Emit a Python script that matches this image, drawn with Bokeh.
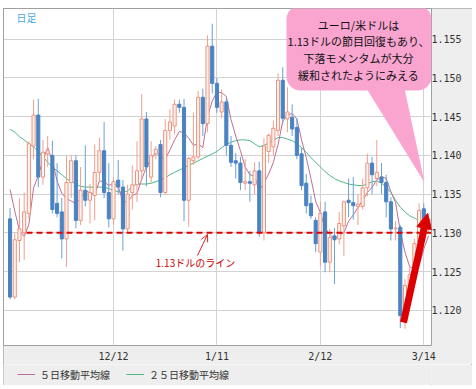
import pandas as pd
from bokeh.plotting import figure
from bokeh.layouts import column
from bokeh.models import (ColumnDataSource, FixedTicker, PrintfTickFormatter, Range1d,
                          Legend, LegendItem, Label, Arrow, NormalHead, OpenHead, BoxAnnotation)
from bokeh.embed import file_html
from bokeh.resources import INLINE

# ---------------- data ----------------
dates = [f"{d.month}/{d.day}" for d in pd.bdate_range("2018-11-12", "2019-03-15")]

opens = [
    1.1318, 1.1217, 1.1290, 1.1300, 1.1325, 1.1412, 1.1452, 1.1372, 1.1402, 1.1400,
    1.1338, 1.1327, 1.1292, 1.1365, 1.1393, 1.1316, 1.1355, 1.1342, 1.1348, 1.1378,
    1.1406, 1.1352, 1.1318, 1.1368, 1.1359, 1.1305, 1.1352, 1.1362, 1.1380, 1.1447,
    1.1372, 1.1402, 1.1414, 1.1352, 1.1432, 1.1438, 1.1466, 1.1462, 1.1342, 1.1393,
    1.1398, 1.1475, 1.1441, 1.1541, 1.1493, 1.1456, 1.1469, 1.1413, 1.1393, 1.1390,
    1.1364, 1.1366, 1.1362, 1.1380, 1.1300, 1.1405, 1.1411, 1.1432, 1.1497, 1.1447,
    1.1449, 1.1436, 1.1402, 1.1364, 1.1338, 1.1316, 1.1275, 1.1327, 1.1262, 1.1296,
    1.1292, 1.1309, 1.1342, 1.1339, 1.1334, 1.1334, 1.1358, 1.1390, 1.1370, 1.1372,
    1.1365, 1.1340, 1.1305, 1.1307, 1.1193, 1.1225, 1.1250, 1.1288, 1.1331, 1.1306]
highs = [
    1.1332, 1.1300, 1.1344, 1.1352, 1.1418, 1.1472, 1.1473, 1.1420, 1.1425, 1.1419,
    1.1390, 1.1345, 1.1399, 1.1400, 1.1400, 1.1385, 1.1413, 1.1363, 1.1414, 1.1423,
    1.1443, 1.1390, 1.1372, 1.1394, 1.1368, 1.1362, 1.1387, 1.1418, 1.1479, 1.1456,
    1.1418, 1.1412, 1.1420, 1.1447, 1.1460, 1.1472, 1.1472, 1.1473, 1.1398, 1.1455,
    1.1483, 1.1486, 1.1555, 1.1570, 1.1500, 1.1485, 1.1475, 1.1425, 1.1403, 1.1398,
    1.1395, 1.1380, 1.1391, 1.1392, 1.1422, 1.1428, 1.1445, 1.1506, 1.1514, 1.1488,
    1.1466, 1.1448, 1.1410, 1.1376, 1.1348, 1.1320, 1.1340, 1.1340, 1.1305, 1.1306,
    1.1327, 1.1342, 1.1370, 1.1372, 1.1350, 1.1370, 1.1402, 1.1398, 1.1420, 1.1390,
    1.1375, 1.1346, 1.1315, 1.1310, 1.1240, 1.1258, 1.1292, 1.1338, 1.1338, 1.1325]
lows = [
    1.1214, 1.1214, 1.1262, 1.1265, 1.1318, 1.1395, 1.1359, 1.1362, 1.1385, 1.1325,
    1.1320, 1.1267, 1.1256, 1.1345, 1.1306, 1.1310, 1.1334, 1.1312, 1.1316, 1.1365,
    1.1345, 1.1307, 1.1310, 1.1350, 1.1277, 1.1300, 1.1330, 1.1340, 1.1370, 1.1360,
    1.1365, 1.1395, 1.1346, 1.1350, 1.1420, 1.1427, 1.1455, 1.1315, 1.1308, 1.1388,
    1.1395, 1.1425, 1.1430, 1.1480, 1.1455, 1.1448, 1.1400, 1.1385, 1.1370, 1.1355,
    1.1355, 1.1340, 1.1350, 1.1295, 1.1290, 1.1390, 1.1400, 1.1425, 1.1440, 1.1430,
    1.1425, 1.1395, 1.1355, 1.1325, 1.1318, 1.1275, 1.1257, 1.1249, 1.1249, 1.1234,
    1.1285, 1.1270, 1.1320, 1.1317, 1.1310, 1.1330, 1.1347, 1.1350, 1.1360, 1.1350,
    1.1320, 1.1290, 1.1290, 1.1177, 1.1176, 1.1220, 1.1245, 1.1280, 1.1295, 1.1300]
closes = [
    1.1217, 1.1291, 1.1305, 1.1327, 1.1415, 1.1452, 1.1372, 1.1404, 1.1406, 1.1330,
    1.1325, 1.1292, 1.1365, 1.1393, 1.1316, 1.1355, 1.1342, 1.1352, 1.1378, 1.1406,
    1.1352, 1.1318, 1.1366, 1.1359, 1.1305, 1.1350, 1.1362, 1.1380, 1.1447, 1.1385,
    1.1400, 1.1408, 1.1352, 1.1432, 1.1443, 1.1466, 1.1462, 1.1342, 1.1396, 1.1398,
    1.1475, 1.1441, 1.1541, 1.1493, 1.1462, 1.1469, 1.1413, 1.1391, 1.1390, 1.1365,
    1.1366, 1.1364, 1.1380, 1.1300, 1.1412, 1.1426, 1.1435, 1.1497, 1.1448, 1.1456,
    1.1434, 1.1400, 1.1361, 1.1335, 1.1322, 1.1286, 1.1325, 1.1262, 1.1294, 1.1291,
    1.1312, 1.1340, 1.1339, 1.1335, 1.1337, 1.1358, 1.1390, 1.1375, 1.1378, 1.1365,
    1.1340, 1.1305, 1.1306, 1.1193, 1.1232, 1.1246, 1.1286, 1.1329, 1.1303, 1.1318]
ma5 = [
    1.1356, 1.1328, 1.1303, 1.1295, 1.1311, 1.1358, 1.1374, 1.1394, 1.1410, 1.1393,
    1.1367, 1.1351, 1.1344, 1.1341, 1.1338, 1.1344, 1.1354, 1.1352, 1.1349, 1.1367,
    1.1366, 1.1361, 1.1364, 1.1360, 1.1340, 1.1340, 1.1348, 1.1351, 1.1369, 1.1385,
    1.1395, 1.1404, 1.1398, 1.1395, 1.1407, 1.1420, 1.1431, 1.1429, 1.1422, 1.1413,
    1.1415, 1.1410, 1.1450, 1.1470, 1.1482, 1.1481, 1.1476, 1.1446, 1.1425, 1.1406,
    1.1385, 1.1375, 1.1373, 1.1355, 1.1364, 1.1376, 1.1391, 1.1414, 1.1444, 1.1452,
    1.1454, 1.1447, 1.1420, 1.1397, 1.1370, 1.1341, 1.1326, 1.1306, 1.1298, 1.1292,
    1.1297, 1.1300, 1.1315, 1.1323, 1.1333, 1.1342, 1.1352, 1.1359, 1.1368, 1.1373,
    1.1370, 1.1353, 1.1339, 1.1302, 1.1275, 1.1256, 1.1253, 1.1257, 1.1279, 1.1296]
ma25 = [
    1.1434, 1.1430, 1.1424, 1.1420, 1.1415, 1.1411, 1.1405, 1.1398, 1.1391, 1.1385,
    1.1380, 1.1375, 1.1370, 1.1366, 1.1363, 1.1360, 1.1359, 1.1359, 1.1359, 1.1359,
    1.1359, 1.1357, 1.1355, 1.1353, 1.1352, 1.1354, 1.1360, 1.1363, 1.1363, 1.1363,
    1.1364, 1.1366, 1.1368, 1.1371, 1.1375, 1.1378, 1.1381, 1.1384, 1.1387, 1.1390,
    1.1393, 1.1396, 1.1399, 1.1402, 1.1405, 1.1410, 1.1414, 1.1417, 1.1419, 1.1420,
    1.1420, 1.1419, 1.1415, 1.1411, 1.1413, 1.1416, 1.1419, 1.1423, 1.1423, 1.1421,
    1.1419, 1.1415, 1.1410, 1.1404, 1.1397, 1.1391, 1.1385, 1.1379, 1.1374, 1.1370,
    1.1367, 1.1365, 1.1363, 1.1362, 1.1361, 1.1361, 1.1363, 1.1366, 1.1367, 1.1364,
    1.1359, 1.1352, 1.1342, 1.1333, 1.1327, 1.1322, 1.1319, 1.1316, 1.1315, 1.1315]

x_tick_labels = ["12/12", "1/11", "2/12", "3/14"]
y_ticks = [1.120, 1.125, 1.130, 1.135, 1.140, 1.145, 1.150, 1.155]
level = 1.130
level_text = "1.13ドルのライン"
title_text = "日足"
callout_lines = ["ユーロ/米ドルは", "1.13ドルの節目回復もあり、", "下落モメンタムが大分", "緩和されたようにみえる"]
legend_labels = ["５日移動平均線", "２５日移動平均線"]

# ---------------- layout helpers (page pixels -> data) ----------------
X0_PX, DX_PX = 9.57, 4.7015
Y_REF_PX, PX_PER_UNIT = 232.3, 7743.0
def px_x(px):
    return (px - X0_PX) / DX_PX
def px_y(py):
    return 1.130 + (Y_REF_PX - py) / PX_PER_UNIT

UP_FILL, UP_LINE, UP_WICK = "#fff3ef", "#ec927c", "#ef9f8d"
DN_FILL, DN_LINE, DN_WICK = "#4a83c2", "#4a83c2", "#6aa0d4"
MA5_COLOR, MA25_COLOR = "#bc6f98", "#4fb986"
RED = "#dd0000"
PANEL = "#eeeeee"

idx = list(range(len(dates)))
inc = [c >= o for o, c in zip(opens, closes)]
src = ColumnDataSource(dict(
    x=idx, open=opens, high=highs, low=lows, close=closes,
    top=[max(o, c) for o, c in zip(opens, closes)],
    bottom=[min(o, c) for o, c in zip(opens, closes)],
    fill=[UP_FILL if u else DN_FILL for u in inc],
    line=[UP_LINE if u else DN_LINE for u in inc],
    wick=[UP_WICK if u else DN_WICK for u in inc],
    ma5=ma5, ma25=ma25,
))

p = figure(width=469, height=356, output_backend="svg", toolbar_location=None,
           x_range=Range1d(px_x(3), px_x(431)), y_range=Range1d(px_y(345), px_y(8)),
           y_axis_location="right",
           min_border_left=0, min_border_top=0, min_border_right=41, min_border_bottom=19)
p.background_fill_color = "white"
p.border_fill_color = PANEL
p.outline_line_color = "#a0a0a0"

# grids
p.xgrid.grid_line_color = "#d2d2d2"
p.ygrid.grid_line_color = "#d2d2d2"

# axes
p.xaxis.ticker = FixedTicker(ticks=[dates.index(t) for t in x_tick_labels])
p.xaxis.major_label_overrides = {dates.index(t): t for t in x_tick_labels}
p.yaxis.ticker = FixedTicker(ticks=y_ticks)
p.yaxis.formatter = PrintfTickFormatter(format="%.3f")
for ax in (p.xaxis[0], p.yaxis[0]):
    ax.axis_line_color = None
    ax.major_tick_line_color = None
    ax.minor_tick_line_color = None
    ax.major_tick_out = 0
    ax.major_tick_in = 0
    ax.minor_tick_out = 0
    ax.major_label_text_font = "DejaVu Sans Mono"
    ax.major_label_text_font_size = "10px"
    ax.major_label_text_color = "#333333"
p.xaxis.major_label_standoff = 5
p.yaxis.major_label_standoff = 0

# moving averages
r25 = p.line("x", "ma25", source=src, line_color=MA25_COLOR, line_width=1)
r5 = p.line("x", "ma5", source=src, line_color=MA5_COLOR, line_width=1)

# candles
p.segment("x", "high", "x", "low", source=src, line_color="wick", line_width=1)
p.vbar(x="x", top="top", bottom="bottom", width=0.66, source=src,
       fill_color="fill", line_color="line", line_width=1)

# 1.13 line
p.segment(x0=[3.5], y0=[level], x1=[px_x(431)], y1=[level],
          line_color=RED, line_width=2, line_dash="6 4")
p.add_layout(Label(x=px_x(195), y=px_y(262), text=level_text, text_align="center",
                   text_baseline="middle", text_font="Noto Sans CJK JP",
                   text_font_size="10px", text_color="#cc0000"))
p.add_layout(Arrow(end=OpenHead(size=7, line_color="#dd2222", line_width=1),
                   x_start=px_x(197), y_start=px_y(255), x_end=px_x(207), y_end=px_y(234),
                   line_color="#dd2222", line_width=1))

# title label
p.add_layout(Label(x=px_x(16), y=px_y(17), text=title_text, text_align="left",
                   text_baseline="middle", text_font="Noto Sans CJK JP",
                   text_font_size="10px", text_color="#4aa8e0"))

# callout bubble
BUBBLE = "#f9a5d0"
p.patch(x=[px_x(366), px_x(404), px_x(424)], y=[px_y(88), px_y(88), px_y(182)],
        fill_color=BUBBLE, line_color=None, level="overlay")
p.add_layout(BoxAnnotation(left=px_x(286), right=px_x(431), top=px_y(5), bottom=px_y(90),
                           fill_color=BUBBLE, fill_alpha=1, line_color=None, border_radius=14,
                           level="overlay"))
for k, t in enumerate(callout_lines):
    p.add_layout(Label(x=px_x(358), y=px_y(24 + 16.8 * k), text=t, text_align="center",
                       text_baseline="middle", text_font="Noto Sans CJK JP",
                       text_font_size="11px", text_color="#111111", level="overlay"))

# big red arrow (kept inside the frame)
p.add_layout(Arrow(end=NormalHead(size=15, fill_color=RED, line_color=RED),
                   x_start=px_x(403), y_start=px_y(322), x_end=px_x(427), y_end=px_y(213),
                   line_color=RED, line_width=7, level="overlay"))

# legend strip below the chart (proxy renderers lie outside the strip's visible range)
p2 = figure(width=469, height=21, output_backend="svg", toolbar_location=None,
            x_range=Range1d(0, 469), y_range=Range1d(0, 21),
            x_axis_location=None, y_axis_location=None,
            min_border_left=0, min_border_top=0, min_border_right=0, min_border_bottom=0)
p2.background_fill_color = PANEL
p2.border_fill_color = PANEL
p2.outline_line_color = None
p2.grid.visible = False
l5 = p2.line(x=[-20, -10], y=[-20, -20], line_color=MA5_COLOR, line_width=1)
l25 = p2.line(x=[-20, -10], y=[-20, -20], line_color=MA25_COLOR, line_width=1)
legend = Legend(items=[LegendItem(label=legend_labels[0], renderers=[l5]),
                       LegendItem(label=legend_labels[1], renderers=[l25])],
                orientation="horizontal", location=(14, 3), margin=0, padding=0,
                spacing=16, glyph_width=18, glyph_height=16, label_height=16,
                label_standoff=5, border_line_color=None, background_fill_alpha=0,
                label_text_font="Noto Sans CJK JP", label_text_font_size="10px",
                label_text_color="#333333")
p2.add_layout(legend)

layout = column(p, p2, spacing=0)
layout.margin = (8, 4, 4, 3)
layout.styles = {"outline": "1px solid #a8a8a8", "outline-offset": "-1px"}

open("out.html", "w").write(file_html(layout, INLINE))
